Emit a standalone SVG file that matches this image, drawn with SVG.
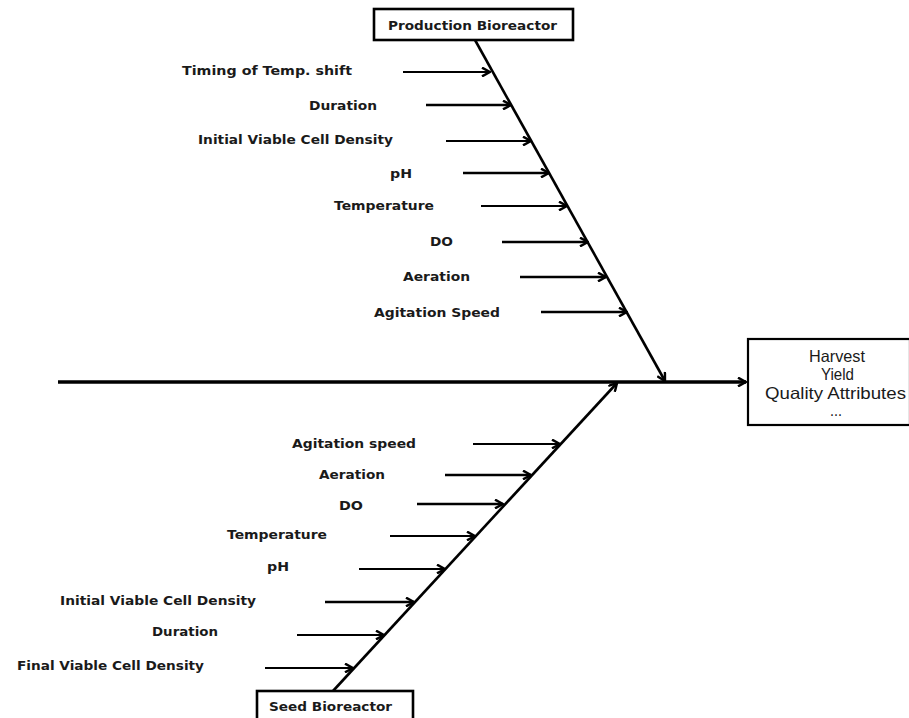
<svg xmlns="http://www.w3.org/2000/svg" width="909" height="718" viewBox="0 0 909 718">
  <defs>
    <marker id="chev" viewBox="0 0 10 10" refX="9" refY="5" markerWidth="10" markerHeight="10" markerUnits="userSpaceOnUse" orient="auto">
      <path d="M1,0.6 L9,5 L1,9.4" fill="none" stroke="#000" stroke-width="2.4" stroke-linejoin="miter"/>
    </marker>
    <style>
      .lbl { font-family: "DejaVu Sans", Verdana, sans-serif; font-weight: bold; font-size: 12.5px; fill: #1a1a1a; }
      .box { fill: #fff; stroke: #000; stroke-width: 2.6; }
      .ttl { font-family: "DejaVu Sans", Verdana, sans-serif; font-weight: bold; font-size: 12.5px; fill: #1a1a1a; }
      .out { font-family: "Liberation Sans", Arial, sans-serif; font-size: 16.5px; fill: #1a1a1a; }
      .spine { stroke: #000; stroke-width: 2.6; fill: none; }
      .cause { stroke: #000; stroke-width: 2.6; fill: none; marker-end: url(#chev); }
      .thin { stroke-width: 2.1; }
    </style>
  </defs>

  <rect width="909" height="718" fill="#fff"/>

  <!-- backbone, spines and cause arrows -->
  <g id="connectors">
    <line x1="58" y1="382" x2="746" y2="382" stroke="#000" stroke-width="3.4" marker-end="url(#chev)"/>
    <line class="spine" x1="475" y1="40" x2="665" y2="381" marker-end="url(#chev)"/>
    <line class="spine" x1="333" y1="691" x2="617" y2="383" marker-end="url(#chev)"/>

    <!-- production side -->
    <line class="cause thin" x1="403" y1="72" x2="490" y2="72"/>
    <line class="cause" x1="426" y1="105" x2="511" y2="105"/>
    <line class="cause thin" x1="446" y1="141" x2="531" y2="141"/>
    <line class="cause" x1="463" y1="173" x2="549" y2="173"/>
    <line class="cause thin" x1="481" y1="206" x2="567" y2="206"/>
    <line class="cause" x1="502" y1="242" x2="588" y2="242"/>
    <line class="cause" x1="520" y1="277" x2="606" y2="277"/>
    <line class="cause" x1="541" y1="312" x2="627" y2="312"/>

    <!-- seed side -->
    <line class="cause thin" x1="473" y1="444" x2="560" y2="444"/>
    <line class="cause" x1="445" y1="475" x2="531" y2="475"/>
    <line class="cause" x1="417" y1="504" x2="503" y2="504"/>
    <line class="cause thin" x1="390" y1="536" x2="475" y2="536"/>
    <line class="cause thin" x1="359" y1="569" x2="445" y2="569"/>
    <line class="cause" x1="325" y1="602" x2="414" y2="602"/>
    <line class="cause thin" x1="297" y1="635" x2="384" y2="635"/>
    <line class="cause thin" x1="265" y1="668" x2="353" y2="668"/>
  </g>

  <!-- cause labels, production side -->
  <g id="production-causes">
    <text class="lbl" x="182" y="75" textLength="170" lengthAdjust="spacingAndGlyphs">Timing of Temp. shift</text>
    <text class="lbl" x="309" y="110" textLength="68" lengthAdjust="spacingAndGlyphs">Duration</text>
    <text class="lbl" x="198" y="144" textLength="195" lengthAdjust="spacingAndGlyphs">Initial Viable Cell Density</text>
    <text class="lbl" x="390" y="178" textLength="22" lengthAdjust="spacingAndGlyphs">pH</text>
    <text class="lbl" x="334" y="210" textLength="100" lengthAdjust="spacingAndGlyphs">Temperature</text>
    <text class="lbl" x="430" y="246" textLength="23" lengthAdjust="spacingAndGlyphs">DO</text>
    <text class="lbl" x="403" y="281" textLength="67" lengthAdjust="spacingAndGlyphs">Aeration</text>
    <text class="lbl" x="374" y="317" textLength="126" lengthAdjust="spacingAndGlyphs">Agitation Speed</text>
  </g>

  <!-- cause labels, seed side -->
  <g id="seed-causes">
    <text class="lbl" x="292" y="448" textLength="124" lengthAdjust="spacingAndGlyphs">Agitation speed</text>
    <text class="lbl" x="319" y="479" textLength="66" lengthAdjust="spacingAndGlyphs">Aeration</text>
    <text class="lbl" x="339" y="510" textLength="24" lengthAdjust="spacingAndGlyphs">DO</text>
    <text class="lbl" x="227" y="539" textLength="100" lengthAdjust="spacingAndGlyphs">Temperature</text>
    <text class="lbl" x="267" y="571" textLength="22" lengthAdjust="spacingAndGlyphs">pH</text>
    <text class="lbl" x="60" y="605" textLength="196" lengthAdjust="spacingAndGlyphs">Initial Viable Cell Density</text>
    <text class="lbl" x="152" y="636" textLength="66" lengthAdjust="spacingAndGlyphs">Duration</text>
    <text class="lbl" x="17" y="670" textLength="187" lengthAdjust="spacingAndGlyphs">Final Viable Cell Density</text>
  </g>

  <g id="production-bioreactor">
    <rect class="box" x="374" y="9" width="199" height="31"/>
    <text class="ttl" x="388" y="30" textLength="169" lengthAdjust="spacingAndGlyphs">Production Bioreactor</text>
  </g>

  <g id="seed-bioreactor">
    <rect class="box" x="257" y="691" width="156" height="40"/>
    <text class="ttl" x="269" y="711" textLength="123" lengthAdjust="spacingAndGlyphs">Seed Bioreactor</text>
  </g>

  <g id="harvest">
    <rect x="748" y="339" width="162" height="86" fill="#fff" stroke="#000" stroke-width="2.2"/>
    <text class="out" x="809" y="362" textLength="56" lengthAdjust="spacingAndGlyphs">Harvest</text>
    <text class="out" x="821" y="380" textLength="33" lengthAdjust="spacingAndGlyphs">Yield</text>
    <text class="out" x="765" y="399" textLength="141" lengthAdjust="spacingAndGlyphs">Quality Attributes</text>
    <text class="out" x="830" y="416" textLength="12" lengthAdjust="spacingAndGlyphs">...</text>
  </g>
</svg>
